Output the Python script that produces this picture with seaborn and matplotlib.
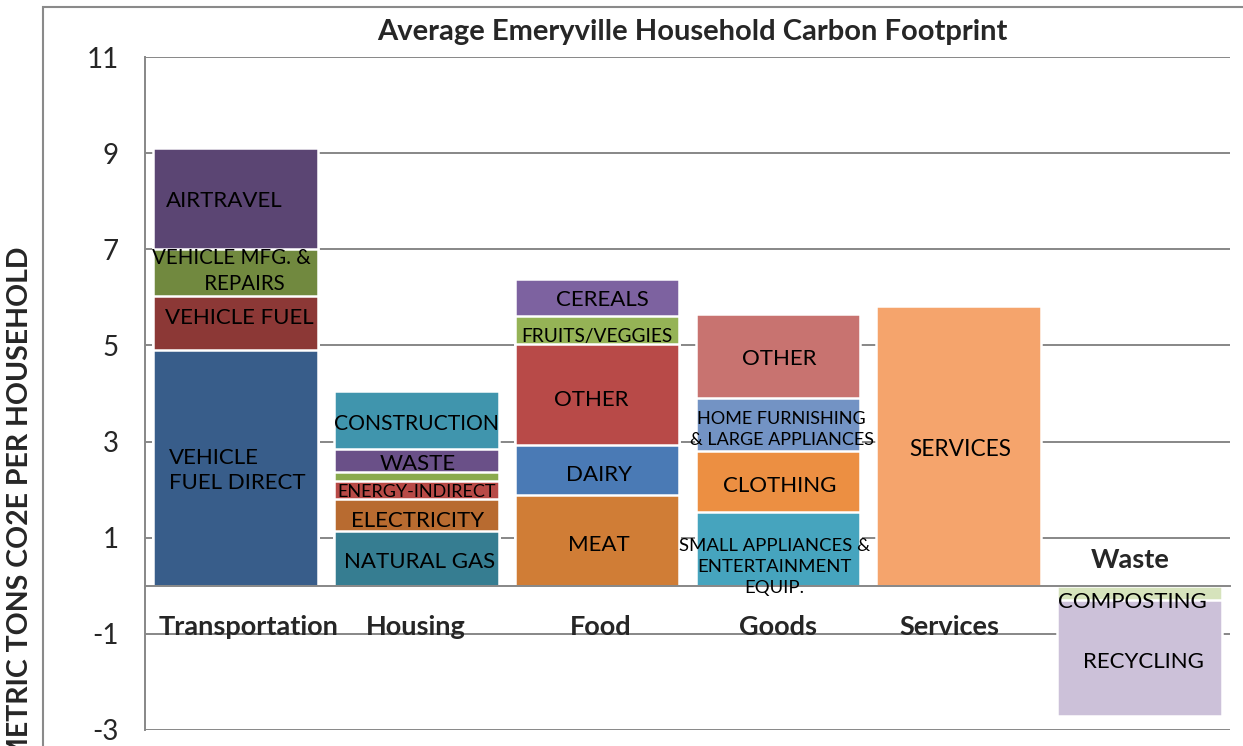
import matplotlib
matplotlib.use("Agg")
import matplotlib.pyplot as plt
from matplotlib.patches import Rectangle
import seaborn as sns
import numpy as np

# ---------------- data ----------------
categories = ["Transportation", "Housing", "Food", "Goods", "Services", "Waste"]

transport_labels = ["VEHICLE\nFUEL DIRECT", "VEHICLE FUEL", "VEHICLE MFG. &\n     REPAIRS", "AIRTRAVEL"]
transport_values = [4.90, 1.12, 0.99, 2.09]

housing_labels = ["NATURAL GAS", "ELECTRICITY", "ENERGY-INDIRECT", "", "WASTE", "CONSTRUCTION"]
housing_values = [1.14, 0.66, 0.38, 0.19, 0.47, 1.21]

food_labels = ["MEAT", "DAIRY", "OTHER", "FRUITS/VEGGIES", "CEREALS"]
food_values = [1.89, 1.04, 2.09, 0.60, 0.77]

goods_labels = ["SMALL APPLIANCES &\nENTERTAINMENT\nEQUIP.", "CLOTHING",
                "HOME FURNISHING\n& LARGE APPLIANCES", "OTHER"]
goods_values = [1.54, 1.26, 1.10, 1.76]

services_labels = ["SERVICES"]
services_values = [5.83]

waste_labels = ["COMPOSTING", "RECYCLING"]
waste_values = [-0.29, -2.41]

y_ticks = [11, 9, 7, 5, 3, 1, -1, -3]
title = "Average Emeryville Household Carbon Footprint"
y_label = "METRIC TONS CO2E PER HOUSEHOLD"

# ---------------- styles ----------------
colors = {
    "Transportation": ["#385D8A", "#8C3836", "#71893F", "#5B4573"],
    "Housing": ["#367D91", "#B86B30", "#B84A47", "#8AAA4E", "#6A5088", "#4095AD"],
    "Food": ["#D07D36", "#4A7AB5", "#B84A48", "#95B356", "#7D62A0"],
    "Goods": ["#46A4BE", "#EC8F42", "#7393C4", "#C87370"],
    "Services": ["#F5A46C"],
    "Waste": ["#D6E3BC", "#CCC1D9"],
}
segments = {
    "Transportation": (transport_labels, transport_values),
    "Housing": (housing_labels, housing_values),
    "Food": (food_labels, food_values),
    "Goods": (goods_labels, goods_values),
    "Services": (services_labels, services_values),
    "Waste": (waste_labels, waste_values),
}
# (dx, dy, fontsize, ha) per label
label_style = {
    ("Transportation", 0): (-0.37, -0.05, 16, "left"),
    ("Transportation", 1): (0.02, 0.12, 16, "center"),
    ("Transportation", 2): (-0.02, 0.03, 14.8, "center"),
    ("Transportation", 3): (-0.06, -0.06, 16, "center"),
    ("Housing", 0): (0.02, -0.08, 16, "center"),
    ("Housing", 1): (0.01, -0.12, 16, "center"),
    ("Housing", 2): (0.0, -0.03, 13, "center"),
    ("Housing", 4): (0.01, -0.08, 16, "center"),
    ("Housing", 5): (0.0, -0.08, 15.2, "center"),
    ("Food", 0): (0.01, -0.1, 16, "center"),
    ("Food", 1): (0.01, -0.1, 16, "center"),
    ("Food", 2): (-0.03, -0.1, 16, "center"),
    ("Food", 3): (0.0, -0.14, 13.8, "center"),
    ("Food", 4): (0.03, -0.06, 16, "center"),
    ("Goods", 0): (-0.02, -0.38, 13.3, "center"),
    ("Goods", 1): (0.01, -0.1, 16, "center"),
    ("Goods", 2): (0.02, -0.1, 13, "center"),
    ("Goods", 3): (0.01, -0.06, 16, "center"),
    ("Services", 0): (0.01, -0.09, 16.3, "center"),
    ("Waste", 0): (-0.04, -0.19, 16, "center"),
    ("Waste", 1): (0.02, -0.09, 16, "center"),
}
cat_label_pos = {
    "Transportation": (0.07, -0.85),
    "Housing": (0.0, -0.85),
    "Food": (0.02, -0.85),
    "Goods": (0.0, -0.85),
    "Services": (-0.05, -0.85),
    "Waste": (-0.05, 0.54),
}

# ---------------- figure ----------------
sns.set_style("white")
plt.rcParams["font.family"] = ["Lato", "DejaVu Sans"]

W, H = 1243, 746
fig = plt.figure(figsize=(W / 100, H / 100), dpi=100)
ax = fig.add_axes([145 / W, (H - 730) / H, (1230 - 145) / W, (730 - 57) / H])

grid_col = "#878787"
bar_w = 0.91

for cat in categories:
    labels, vals = segments[cat]
    cum = np.cumsum(vals)
    # draw top segment first, smaller cumulative bars drawn over it
    for k in range(len(vals) - 1, -1, -1):
        sns.barplot(x=[cat], y=[cum[k]], order=categories, color=colors[cat][k],
                    saturation=1, width=bar_w, errorbar=None,
                    edgecolor="white", linewidth=1.8, ax=ax, zorder=3)
    ci = categories.index(cat)
    for k, lab in enumerate(labels):
        if not lab:
            continue
        dx, dy, fs, ha = label_style[(cat, k)]
        lo = cum[k - 1] if k > 0 else 0.0
        yc = (lo + cum[k]) / 2 + dy
        ax.text(ci + dx, yc, lab, ha=ha, va="center", fontsize=fs,
                color="black", zorder=5, linespacing=1.35,
                multialignment="left" if ha == "left" else "center")

for cat in categories:
    dx, y = cat_label_pos[cat]
    ax.text(categories.index(cat) + dx, y, cat, ha="center", va="center",
            fontsize=19.5, fontweight="bold", zorder=5)

ax.set_xlim(-0.5, len(categories) - 0.5)
ax.set_ylim(-3, 11)
ax.set_yticks(y_ticks)
ax.set_yticklabels([str(t) for t in y_ticks])
ax.set_xticks(np.arange(-0.5, len(categories), 1.0))
ax.set_xticklabels([])
ax.set_xlabel("")
ax.set_ylabel("")

for t in y_ticks:
    ax.axhline(t, color=grid_col, lw=1.4, zorder=1)

ax.spines["top"].set_visible(False)
ax.spines["right"].set_visible(False)
ax.spines["left"].set_color(grid_col)
ax.spines["left"].set_linewidth(1.4)
ax.spines["bottom"].set_position(("data", 0))
ax.spines["bottom"].set_color(grid_col)
ax.spines["bottom"].set_linewidth(1.4)
ax.spines["bottom"].set_zorder(4)
ax.tick_params(axis="y", length=7, width=1.4, color=grid_col, labelsize=20, pad=12)
ax.tick_params(axis="x", length=5, width=1.4, color=grid_col, direction="out")

fig.text(692 / W, 1 - 32 / H, title, ha="center", va="center",
         fontsize=21, fontweight="bold")
fig.text(20 / W, 1 - 505 / H, y_label, ha="center", va="center",
         rotation=90, fontsize=20.5, fontweight="bold")

fig.add_artist(Rectangle((43 / W, -0.1), 2, 1.1 - 7 / H, transform=fig.transFigure,
                         fill=False, edgecolor="#8a8a8a", lw=1.5))

fig.savefig("out.png", dpi=100)
